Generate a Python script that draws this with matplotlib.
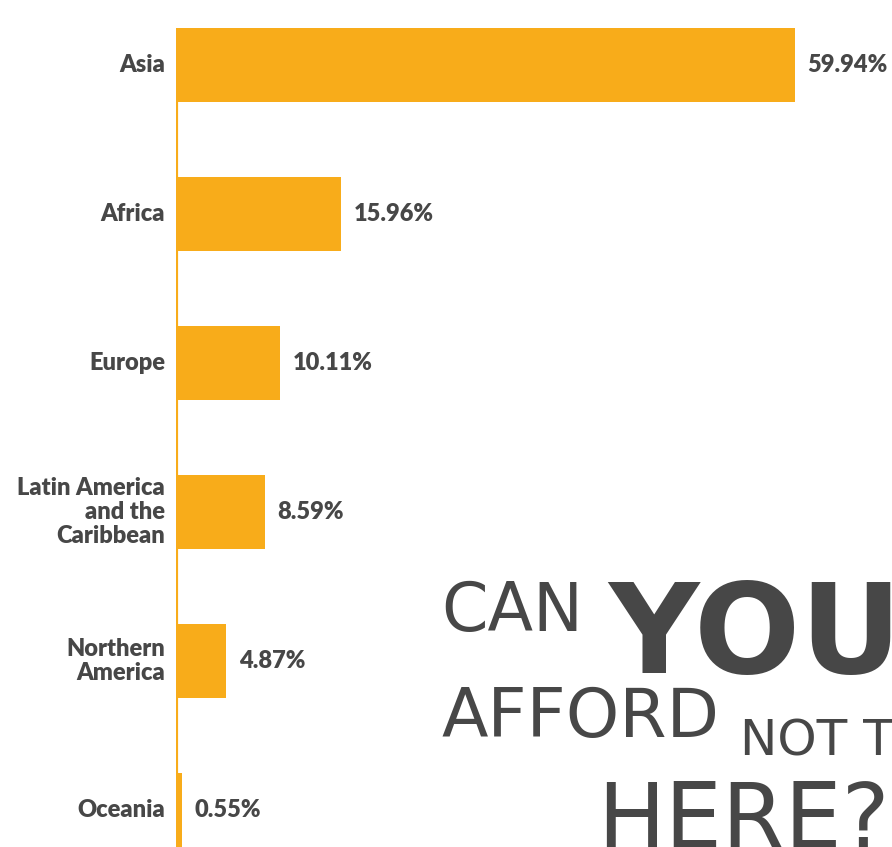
import numpy as np
import matplotlib.pyplot as plt

regions = ["Asia", "Africa", "Europe", "Latin America\nand the\nCaribbean",
           "Northern\nAmerica", "Oceania"]
shares = [59.94, 15.96, 10.11, 8.59, 4.87, 0.55]
share_labels = ["59.94%", "15.96%", "10.11%", "8.59%", "4.87%", "0.55%"]

orange = "#F8AC1A"
ink = "#474747"

W, H = 892, 847
fig = plt.figure(figsize=(W / 100, H / 100), dpi=100)
fig.patch.set_facecolor("white")

# one category step is 149 px, bars start at x=176 px, 10.33 px per percent
ax = fig.add_axes([176 / W, 0, (W - 176) / W, 1])
y = np.arange(len(regions))
ax.barh(y, shares, height=0.5, color=orange, zorder=2)
ax.vlines(0, -0.25, 6, color=orange, lw=3, zorder=3)

for i, (name, lab, v) in enumerate(zip(regions, share_labels, shares)):
    ax.annotate(name, xy=(0, i), xytext=(-8, 0), textcoords="offset points",
                ha="right", va="center", multialignment="right",
                fontsize=17, fontweight="heavy", family="Lato", color=ink,
                linespacing=1.1)
    ax.annotate(lab, xy=(v, i), xytext=(9, 0), textcoords="offset points",
                ha="left", va="center", fontsize=17, fontweight="heavy",
                family="Lato", color=ink)

ax.set_xlim(0, (W - 176) / 10.33)
ax.set_ylim((H - 65) / 149, -65 / 149)
ax.axis("off")


def px(x, yb):
    return x / W, 1 - yb / H


slogan = dict(family="DejaVu Sans", color=ink, va="baseline")
fig.text(*px(441, 631), "CAN", fontsize=48, **slogan)
fig.text(*px(608, 673), "YOU", fontsize=90, fontweight="bold", **slogan)
fig.text(*px(441, 737), "AFFORD", fontsize=49, **slogan)
fig.text(*px(740, 755), "NOT T", fontsize=36, **slogan)
fig.text(*px(597, 848), "HERE?", fontsize=65, **slogan)

fig.savefig("out.png", dpi=100)
